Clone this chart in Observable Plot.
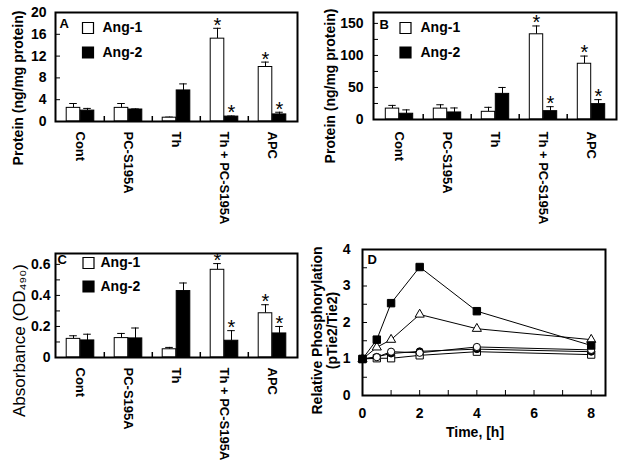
<!DOCTYPE html>
<html><head><meta charset="utf-8">
<script src="https://cdn.jsdelivr.net/npm/d3@7"></script>
<script src="https://cdn.jsdelivr.net/npm/@observablehq/plot@0.6"></script>
<style>
body{margin:0;background:#fff;}
#wrap{position:relative;width:624px;height:476px;overflow:hidden;font-family:"Liberation Sans",Arial,sans-serif;}
.panel{position:absolute;}
</style></head><body><div id="wrap"></div>
<script>
// ---------- data ----------
const categories = ["Cont", "PC-S195A", "Th", "Th + PC-S195A", "APC"];
const series = ["Ang-1", "Ang-2"];

// Panel A: Protein (ng/mg protein)
const aAng1 = [2.5, 2.5, 0.7, 15.2, 10.0];
const aAng1Err = [0.8, 0.8, 0.1, 1.9, 0.9];
const aAng2 = [2.0, 2.2, 5.7, 0.9, 1.3];
const aAng2Err = [0.4, 0.1, 1.2, 0.1, 0.4];
const aSig1 = [false, false, false, true, true];
const aSig2 = [false, false, false, true, true];
const aTicks = [0, 4, 8, 12, 16, 20];
const aMinor = [];

// Panel B: Protein (ng/mg protein)
const bAng1 = [17, 17, 12, 133, 87];
const bAng1Err = [5, 6, 7, 13, 12];
const bAng2 = [9, 11, 40, 13, 24];
const bAng2Err = [6, 7, 10, 7, 7];
const bSig1 = [false, false, false, true, true];
const bSig2 = [false, false, false, true, true];
const bTicks = [0, 50, 100, 150];
const bMinor = [25, 75, 125];

// Panel C: Absorbance (OD490)
const cAng1 = [0.12, 0.125, 0.053, 0.565, 0.285];
const cAng1Err = [0.02, 0.03, 0.012, 0.04, 0.055];
const cAng2 = [0.11, 0.123, 0.428, 0.108, 0.155];
const cAng2Err = [0.04, 0.067, 0.052, 0.065, 0.045];
const cSig1 = [false, false, false, true, true];
const cSig2 = [false, false, false, true, true];
const cTicks = [0, 0.2, 0.4, 0.6];
const cMinor = [0.1, 0.3, 0.5];

// Panel D: Relative phosphorylation over time
const times = [0, 0.5, 1, 2, 4, 8];
const dFilledSquare = [1, 1.53, 2.53, 3.52, 2.31, 1.37];
const dOpenTriangle = [1, 1.32, 1.53, 2.22, 1.83, 1.53];
const dOpenCircle = [1, 1.05, 1.2, 1.17, 1.33, 1.25];
const dFilledCircle = [1, 1.06, 1.15, 1.21, 1.27, 1.2];
const dOpenSquare = [1, 1.02, 1.02, 1.1, 1.2, 1.12];
const dXTicks = [0, 2, 4, 6, 8];
const dXMinor = [1, 3, 5, 7];
const dYTicks = [0, 1, 2, 3, 4];
const dYMinor = [0.5, 1.5, 2.5, 3.5];

// ---------- drawing ----------
const FONT = "Liberation Sans, Arial, Helvetica, sans-serif";
const wrap = document.getElementById("wrap");
function place(svg, left, top) {
  const div = document.createElement("div");
  div.className = "panel";
  div.style.left = left + "px";
  div.style.top = top + "px";
  div.appendChild(svg);
  wrap.appendChild(div);
}

function barPanel(c) {
  const pw = c.width - c.ml - c.mr, ph = c.height - c.mt - c.mb;
  const bw = pw / categories.length;
  const barW = 14, capW = 8;
  const marks = [];
  series.forEach((s, k) => {
    const vals = k === 0 ? c.a1 : c.a2, errs = k === 0 ? c.e1 : c.e2, sig = k === 0 ? c.s1 : c.s2;
    const d = categories.map((cat, i) => ({cat, v: vals[i], top: vals[i] + errs[i], sig: sig[i]}));
    const dx = k === 0 ? -barW / 2 : barW / 2;
    marks.push(
      Plot.ruleX(d, {x: "cat", y1: "v", y2: "top", stroke: "black", strokeWidth: 1, dx}),
      Plot.tickY(d, {x: "cat", y: "top", stroke: "black", strokeWidth: 1, insetLeft: (bw - capW) / 2, insetRight: (bw - capW) / 2, dx}),
      Plot.barY(d, {x: "cat", y: "v", fill: k === 0 ? "white" : "black", stroke: "black", strokeWidth: 1, insetLeft: (bw - barW) / 2, insetRight: (bw - barW) / 2, dx}),
      Plot.text(d.filter(r => r.sig), {x: "cat", y: "top", text: () => "*", dx, dy: -3, fontSize: 20})
    );
  });
  marks.push(
    Plot.tickY([...c.ticks, ...c.minor], {y: d => d, insetRight: pw - 5, stroke: "black", strokeWidth: 1}),
    Plot.ruleX(categories.slice(1), {x: d => d, dx: -bw / 2, insetTop: ph - 5, stroke: "black", strokeWidth: 1.5}),
    Plot.axisY(c.ticks, {tickSize: 0, tickPadding: c.yPad, fontSize: 14, fontWeight: "bold", label: null, tickFormat: d => String(d)}),
    Plot.axisX({tickSize: 0, tickPadding: c.xPad, tickRotate: 90, fontSize: 13, fontWeight: "bold", label: null}),
    Plot.frame({stroke: "black", strokeWidth: 2}),
    Plot.text([c.letter], {frameAnchor: "top-left", text: d => d, dx: c.letterDx, dy: c.letterDy, fontSize: 13, fontWeight: "bold", lineAnchor: "top"}),
    Plot.dot([series[0]], {frameAnchor: "top-left", dx: c.legDx, dy: c.legDy1, symbol: "square", r: 6.2, fill: "white", stroke: "black", strokeWidth: 1.2}),
    Plot.text([series[0]], {frameAnchor: "top-left", text: d => d, dx: c.legTextDx, dy: c.legDy1, lineAnchor: "middle", fontSize: 14, fontWeight: "bold"}),
    Plot.dot([series[1]], {frameAnchor: "top-left", dx: c.legDx, dy: c.legDy2, symbol: "square", r: 6.2, fill: "black", stroke: "black", strokeWidth: 1.2}),
    Plot.text([series[1]], {frameAnchor: "top-left", text: d => d, dx: c.legTextDx, dy: c.legDy2, lineAnchor: "middle", fontSize: 14, fontWeight: "bold"}),
    Plot.text([c.yLabel], {frameAnchor: "left", text: d => d, rotate: -90, textAnchor: "middle", lineAnchor: "middle", dx: c.yLabelDx, dy: c.yLabelDy, fontSize: c.yLabelSize, fontWeight: c.yLabelWeight})
  );
  return Plot.plot({
    width: c.width, height: c.height,
    marginLeft: c.ml, marginRight: c.mr, marginTop: c.mt, marginBottom: c.mb,
    x: {domain: categories, padding: 0},
    y: {domain: c.yDomain},
    style: {background: "transparent", overflow: "visible", fontFamily: FONT, color: "black"},
    marks
  });
}

place(barPanel({
  width: 312, height: 240, ml: 55, mr: 15, mt: 12, mb: 119,
  yDomain: [0, 20], ticks: aTicks, minor: aMinor,
  a1: aAng1, e1: aAng1Err, a2: aAng2, e2: aAng2Err, s1: aSig1, s2: aSig2,
  letter: "A", letterDx: 4, letterDy: 6,
  legDx: 32.5, legDy1: 15.5, legDy2: 40, legTextDx: 47,
  yLabel: "Protein (ng/mg protein)", yLabelDx: -37, yLabelDy: 21, yLabelSize: 14, yLabelWeight: "bold",
  yPad: 9, xPad: 10
}), 0, 0);

place(barPanel({
  width: 312, height: 240, ml: 61, mr: 8, mt: 12, mb: 121,
  yDomain: [0, 167], ticks: bTicks, minor: bMinor,
  a1: bAng1, e1: bAng1Err, a2: bAng2, e2: bAng2Err, s1: bSig1, s2: bSig2,
  letter: "B", letterDx: 6, letterDy: 7,
  legDx: 32, legDy1: 15.5, legDy2: 40, legTextDx: 47,
  yLabel: "Protein (ng/mg protein)", yLabelDx: -43, yLabelDy: 20, yLabelSize: 14, yLabelWeight: "bold",
  yPad: 10, xPad: 12
}), 312, 0);

place(barPanel({
  width: 312, height: 236, ml: 55, mr: 15, mt: 13, mb: 119,
  yDomain: [0, 0.67], ticks: cTicks, minor: cMinor,
  a1: cAng1, e1: cAng1Err, a2: cAng2, e2: cAng2Err, s1: cSig1, s2: cSig2,
  letter: "C", letterDx: 2, letterDy: 1,
  legDx: 33, legDy1: 9.5, legDy2: 33, legTextDx: 45,
  yLabel: "Absorbance (OD₄₉₀)", yLabelDx: -36, yLabelDy: 35, yLabelSize: 17, yLabelWeight: "normal",
  yPad: 5, xPad: 10
}), 0, 240);

function linePanel() {
  const width = 324, height = 236, ml = 62, mr = 19, mt = 9, mb = 81;
  const pw = width - ml - mr, ph = height - mt - mb;
  const defs = [
    {values: dOpenSquare, symbol: "square", fill: "white", r: 4.1},
    {values: dFilledCircle, symbol: "circle", fill: "black", r: 3.5},
    {values: dOpenCircle, symbol: "circle", fill: "white", r: 3.6},
    {values: dOpenTriangle, symbol: "triangle", fill: "white", r: 3.4},
    {values: dFilledSquare, symbol: "square", fill: "black", r: 4.2}
  ];
  const marks = [];
  defs.forEach(s => {
    const d = times.map((t, i) => ({t, v: s.values[i]}));
    marks.push(Plot.line(d, {x: "t", y: "v", stroke: "black", strokeWidth: 1}));
  });
  defs.forEach(s => {
    const d = times.map((t, i) => ({t, v: s.values[i]}));
    marks.push(Plot.dot(d, {x: "t", y: "v", symbol: s.symbol, fill: s.fill, stroke: "black", strokeWidth: 1, r: s.r}));
  });
  marks.push(
    Plot.tickY([...dYTicks, ...dYMinor], {y: d => d, insetRight: pw - 5, stroke: "black"}),
    Plot.tickX([...dXTicks, ...dXMinor], {x: d => d, insetTop: ph - 5, stroke: "black"}),
    Plot.axisY(dYTicks, {tickSize: 0, tickPadding: 12, fontSize: 14, fontWeight: "bold", label: null}),
    Plot.axisX(dXTicks, {tickSize: 0, tickPadding: 13, fontSize: 14, fontWeight: "bold", label: null}),
    Plot.frame({stroke: "black", strokeWidth: 2}),
    Plot.text(["D"], {frameAnchor: "top-left", text: d => d, dx: 5, dy: 5, fontSize: 13, fontWeight: "bold", lineAnchor: "top"}),
    Plot.text(["Relative Phosphorylation\n(pTie2/Tie2)"], {frameAnchor: "left", text: d => d, rotate: -90, textAnchor: "middle", lineAnchor: "middle", lineHeight: 1.05, dx: -38, dy: 8, fontSize: 14, fontWeight: "bold"}),
    Plot.text(["Time, [h]"], {frameAnchor: "bottom", text: d => d, dx: -9, dy: 37, lineAnchor: "middle", fontSize: 14, fontWeight: "bold"})
  );
  return Plot.plot({
    width, height, marginLeft: ml, marginRight: mr, marginTop: mt, marginBottom: mb,
    x: {domain: [0, 8.5]},
    y: {domain: [0, 4]},
    style: {background: "transparent", overflow: "visible", fontFamily: FONT, color: "black"},
    marks
  });
}
place(linePanel(), 300, 240);
</script>
</body></html>
